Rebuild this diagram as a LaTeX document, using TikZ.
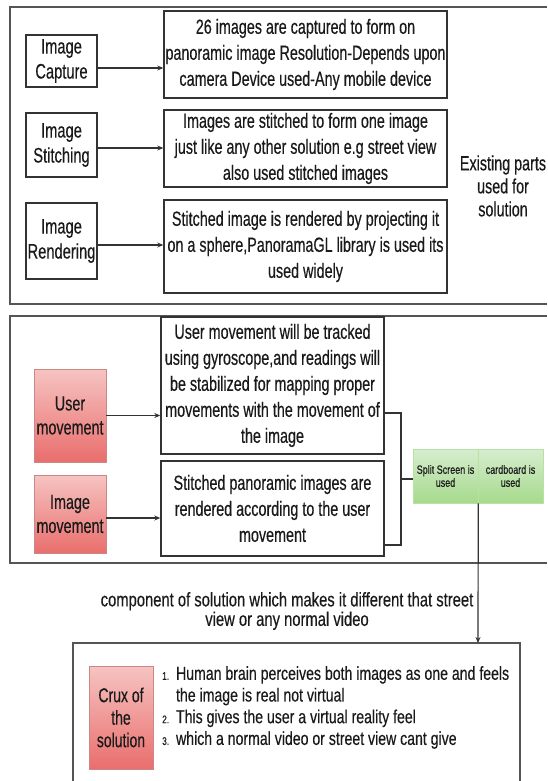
\documentclass[tikz,border=0pt]{standalone}
\usepackage{fontspec}
\setmainfont{Liberation Sans}[FakeStretch=0.70,FakeBold=0.35]
\newfontfamily\listfont{Liberation Sans}[FakeStretch=0.75,FakeBold=0.35]
\usetikzlibrary{arrows.meta}
\definecolor{txt}{HTML}{1A1A1A}
\definecolor{edge}{HTML}{333333}
\definecolor{frame}{HTML}{555555}
\definecolor{redtop}{HTML}{F6C4C2}
\definecolor{redbot}{HTML}{E96E6C}
\definecolor{redline}{HTML}{C98886}
\definecolor{grntop}{HTML}{D6EDCF}
\definecolor{grnbot}{HTML}{A6DA8C}
\tikzset{
  wbox/.style={draw=edge, line width=1.4pt, fill=white, inner sep=0pt, align=center, text=txt},
  lbox/.style={wbox, minimum width=71pt, font=\fontsize{21}{25}\selectfont},
  dbox/.style={wbox, font=\fontsize{20.5}{26}\selectfont},
  redbox/.style={draw=redline, line width=0.8pt, top color=redtop, bottom color=redbot, inner sep=0pt, align=center, text=txt, font=\fontsize{20.5}{24}\selectfont},
  grnbox/.style={draw=grnbot!80!white, line width=0.5pt, top color=grntop, bottom color=grnbot, inner sep=0pt, align=center, text=txt, font=\listfont\fontsize{12}{13}\selectfont, minimum width=65pt, minimum height=54pt},
  arr/.style={draw=edge, line width=1.2pt, -{Stealth[length=6pt,width=5pt]}},
  brk/.style={draw=edge, line width=2pt},
  outer/.style={draw=frame, line width=1.6pt},
  plain/.style={inner sep=0pt, align=center, text=txt}
}
\begin{document}
\begin{tikzpicture}[x=1pt,y=-1pt]
\useasboundingbox (0,0) rectangle (547,781);
% outer frames
\draw[outer] (547,7) -- (10,7) -- (10,304) -- (547,304);
\draw[outer] (547,316) -- (10,316) -- (10,563) -- (547,563);
\draw[outer] (73,781) -- (73,643) -- (520,643) -- (520,781);
% top section
\node[lbox, minimum height=52pt] (lc) at (61.5,61) {Image\\Capture};
\node[lbox, minimum height=64pt] (ls) at (61.5,145) {Image\\Stitching};
\node[lbox, minimum height=76pt] (lr) at (61.5,241) {Image\\Rendering};
\node[dbox, minimum width=283pt, minimum height=87pt] (d1) at (305.5,54.5) {26 images are captured to form on\\panoramic image Resolution-Depends upon\\camera Device used-Any mobile device};
\node[dbox, minimum width=283pt, minimum height=77pt] (d2) at (305.5,148.5) {Images are stitched to form one image\\just like any other solution e.g street view\\also used stitched images};
\node[dbox, minimum width=283pt, minimum height=93pt] (d3) at (305.5,246.5) {Stitched image is rendered by projecting it\\on a sphere,PanoramaGL library is used its\\used widely};
\draw[arr] ([yshift=-7pt]lc.east) -- ([yshift=-7pt]lc.east -| d1.west);
\draw[arr] ([yshift=-3pt]ls.east) -- ([yshift=-3pt]ls.east -| d2.west);
\draw[arr] ([yshift=-4pt]lr.east) -- ([yshift=-4pt]lr.east -| d3.west);
\node[plain, font=\fontsize{20.5}{23}\selectfont] (ex) at (503,186) {Existing parts\\used for\\solution};
% middle section
\node[redbox, minimum width=72pt, minimum height=93pt] (um) at (70,415.5) {User\\movement};
\node[redbox, minimum width=72pt, minimum height=78pt] (im) at (70,514) {Image\\movement};
\node[dbox, minimum width=223pt, minimum height=137pt] (d4) at (272.5,385.5) {User movement will be tracked\\using gyroscope,and readings will\\be stabilized for mapping proper\\movements with the movement of\\the image};
\node[dbox, minimum width=223pt, minimum height=95pt] (d5) at (272.5,508.5) {Stitched panoramic images are\\rendered according to the user\\movement};
\draw[arr] (um.east) -- (um.east -| d4.west);
\draw[arr] ([yshift=-4pt]im.east) -- ([yshift=-4pt]im.east -| d5.west);
\node[grnbox] (gs) at (445.5,476) {Split Screen is\\used};
\node[grnbox] (gc) at (510.5,476) {cardboard is\\used};
\coordinate (bx) at (401,479);
\draw[brk] ([yshift=-27.5pt]d4.east) -| (bx) |- ([yshift=-36.5pt]d5.east);
\draw[brk] (bx) -- (bx -| gs.west);
% bottom section
\node[plain, font=\listfont\fontsize{19.7}{19.5}\selectfont] (lab) at (287,611) {component of solution which makes it different that street\\view or any normal video};
\coordinate (ct) at (478,643);
\draw[arr] (gs.south east) -- (ct);
\node[redbox, minimum width=64pt, minimum height=103pt, font=\fontsize{20}{22.5}\selectfont] (cx) at (121,717.5) {Crux of\\the\\solution};
\node[plain, anchor=west, align=left, font=\listfont\fontsize{18.8}{21.7}\selectfont] (ls2) at (162,708)
{\begin{tabular}{@{}r@{\hspace{7pt}}l@{}}
{\fontsize{11}{11}\selectfont 1.} & Human brain perceives both images as one and feels\\
 & the image is real not virtual\\
{\fontsize{11}{11}\selectfont 2.} & This gives the user a virtual reality feel\\
{\fontsize{11}{11}\selectfont 3.} & which a normal video or street view cant give
\end{tabular}};
\end{tikzpicture}
\end{document}
